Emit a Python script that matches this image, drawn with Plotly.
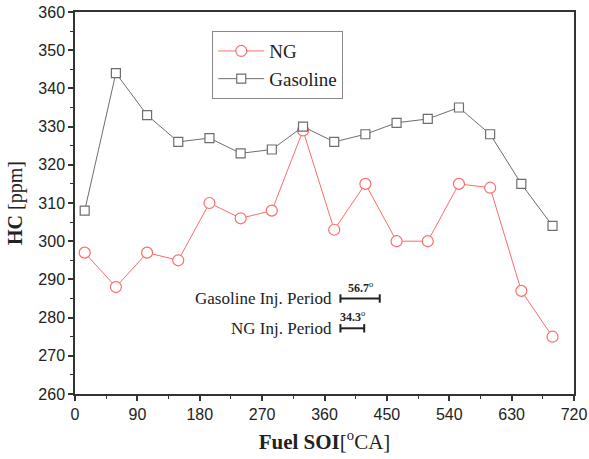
import plotly.graph_objects as go

soi = [14, 59, 104, 149, 194, 239, 284, 329, 374, 419, 464, 509, 554, 599, 644, 689]
ng_hc = [297, 288, 297, 295, 310, 306, 308, 329, 303, 315, 300, 300, 315, 314, 287, 275]
gasoline_hc = [308, 344, 333, 326, 327, 323, 324, 330, 326, 328, 331, 332, 335, 328, 315, 304]

x_ticks = [0, 90, 180, 270, 360, 450, 540, 630, 720]
y_ticks = [260, 270, 280, 290, 300, 310, 320, 330, 340, 350, 360]

period_labels = ["Gasoline Inj. Period", "NG Inj. Period"]
period_deg = [56.7, 34.3]
period_start = 383
period_level = [285, 277.2]

ng_color = "#ff6b6b"
gas_color = "#6e6e6e"
serif = "Liberation Serif"
sans = "Liberation Sans"

fig = go.Figure()
fig.add_trace(go.Scatter(
    x=soi, y=ng_hc, name="NG", mode="lines+markers",
    line=dict(color=ng_color, width=1),
    marker=dict(symbol="circle", size=11, color="white", line=dict(color=ng_color, width=1.2)),
))
fig.add_trace(go.Scatter(
    x=soi, y=gasoline_hc, name="Gasoline", mode="lines+markers",
    line=dict(color=gas_color, width=1),
    marker=dict(symbol="square", size=9, color="white", line=dict(color=gas_color, width=1.2)),
))

for lab, d, lv in zip(period_labels, period_deg, period_level):
    fig.add_trace(go.Scatter(
        x=[period_start, period_start + d], y=[lv, lv], mode="lines+markers",
        line=dict(color="#222", width=2),
        marker=dict(symbol="line-ns", size=6, line=dict(color="#222", width=2)),
        showlegend=False, hoverinfo="skip",
    ))
    fig.add_annotation(x=period_start - 10, y=lv, text=lab, showarrow=False,
                       xanchor="right", yanchor="middle",
                       font=dict(family=serif, size=17, color="#222"))
    fig.add_annotation(x=period_start + d / 2, y=lv + 0.5, text=f"<b>{d}</b><sup>o</sup>",
                       showarrow=False, xanchor="center", yanchor="bottom",
                       font=dict(family=serif, size=12, color="#222"))

axis_common = dict(
    showline=True, linecolor="#333", linewidth=1.5, mirror=True,
    ticks="outside", ticklen=5, tickwidth=1.5, tickcolor="#333",
    showgrid=False, zeroline=False, automargin=False,
    tickfont=dict(family=sans, size=16, color="#222"),
)

fig.update_xaxes(
    range=[0, 720], tickvals=x_ticks,
    minor=dict(ticks="outside", ticklen=3, tickwidth=1.2, tickcolor="#333", dtick=45, tick0=0),
    title=dict(text="<b>Fuel SOI</b>[<sup>o</sup>CA]", font=dict(family=serif, size=21, color="#222"), standoff=12),
    **axis_common,
)
fig.update_yaxes(
    range=[260, 360], tickvals=y_ticks,
    minor=dict(ticks="outside", ticklen=3, tickwidth=1.2, tickcolor="#333", dtick=5, tick0=260),
    title=dict(text="<b>HC</b> [ppm]", font=dict(family=serif, size=20, color="#222"), standoff=10),
    **axis_common,
)

fig.update_layout(
    width=589, height=459,
    margin=dict(l=75, r=15, t=12, b=65),
    paper_bgcolor="white", plot_bgcolor="white",
    legend=dict(x=0.275, y=0.95, xanchor="left", yanchor="top",
                bordercolor="#888", borderwidth=1, bgcolor="white",
                font=dict(family=serif, size=19, color="#222"),
                tracegroupgap=0, itemwidth=46),
)

fig.write_html("out.html")
